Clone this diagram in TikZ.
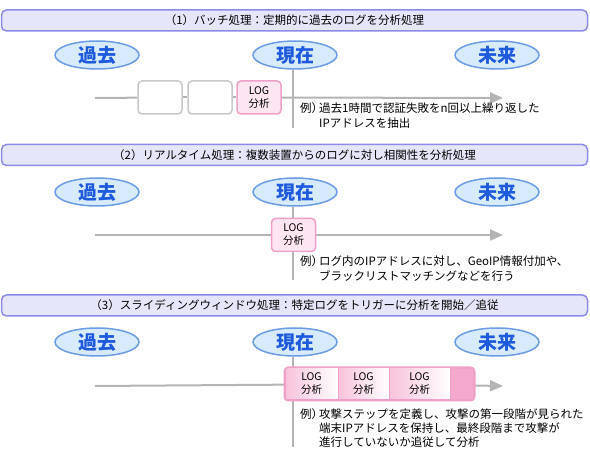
\documentclass[tikz,border=0pt]{standalone}
\usepackage{fontspec}
\setmainfont{Noto Sans CJK JP}
\usetikzlibrary{arrows.meta,backgrounds,shapes.geometric}
\definecolor{hdrfill}{HTML}{E6E6FA}
\definecolor{hdrdraw}{HTML}{8C8CE8}
\definecolor{ellfill}{HTML}{D7EBFC}
\definecolor{elldraw}{HTML}{6C9CE4}
\definecolor{elltext}{HTML}{1E5ADC}
\definecolor{tlgray}{HTML}{B4B4B4}
\definecolor{boxgray}{HTML}{C8C8C8}
\definecolor{pinkfill}{HTML}{FDE5F1}
\definecolor{pinkdraw}{HTML}{F0A0C8}
\definecolor{pinkdark}{HTML}{F5A8CD}
\definecolor{pinkgrad}{HTML}{F8C2DB}
\begin{document}
\begin{tikzpicture}[x=1pt,y=-1pt,
 hdr/.style={draw=hdrdraw,fill=hdrfill,line width=1.5pt,rounded corners=5pt,minimum width=586pt,minimum height=21pt,inner sep=0pt,font=\fontsize{11.5}{14}\selectfont},
 era/.style={ellipse,draw=elldraw,fill=ellfill,line width=1.5pt,minimum width=84pt,minimum height=28pt,inner sep=0pt,text=elltext,font=\fontsize{19}{20}\selectfont\bfseries},
 tl/.style={draw=tlgray,line width=2pt},
 tlarrow/.style={tl,-{Triangle[length=13pt,width=11pt]}},
 greybox/.style={draw=boxgray,fill=white,line width=1.5pt,rounded corners=4pt,minimum width=44pt,minimum height=33pt},
 logbox/.style={draw=pinkdraw,fill=pinkfill,line width=1.5pt,rounded corners=4pt,minimum width=44pt,minimum height=33pt,inner sep=0pt,align=center,font=\fontsize{10.5}{13}\selectfont},
 chainbox/.style={draw=pinkdraw,fill=pinkdark,line width=1.5pt,rounded corners=4pt,minimum width=189pt,minimum height=32pt,inner sep=0pt},
 gradbox/.style={draw=pinkdraw,line width=1pt,left color=pinkgrad,right color=white,minimum height=32pt,inner sep=0pt,align=center,font=\fontsize{10.5}{13}\selectfont},
 ex/.style={anchor=west,inner sep=0pt,font=\fontsize{11.5}{14}\selectfont},
]
\useasboundingbox (0,0) rectangle (590,457);

% ---------- Section 1 ----------
\node[hdr] (h1) at (294.5,20.5) {（1）バッチ処理：定期的に過去のログを分析処理};
\node[era] (past1) at (97,55) {過去};
\node[era] (now1) at (295,55) {現在};
\node[era] (fut1) at (497,55) {未来};
\node[greybox] (b1) at (160,97.5) {};
\node[greybox] (b2) at (210,97.5) {};
\node[logbox] (l1) at (259,97.5) {LOG\\分析};
\coordinate (s1) at (95,98);
\coordinate (e1) at (503,98);
\coordinate (v1) at (293,128);
\node[ex] (x1a) at (300,108) {例）};
\node[ex] (x1b) at (319,108) {過去1時間で認証失敗をn回以上繰り返した};
\node[ex] (x1c) at (319,123) {IPアドレスを抽出};

% ---------- Section 2 ----------
\node[hdr] (h2) at (294.5,155) {（2）リアルタイム処理：複数装置からのログに対し相関性を分析処理};
\node[era] (past2) at (97,192) {過去};
\node[era] (now2) at (295,192) {現在};
\node[era] (fut2) at (497,192) {未来};
\node[logbox] (l2) at (293.5,235) {LOG\\分析};
\coordinate (s2) at (95,235);
\coordinate (e2) at (503,235);
\coordinate (v2) at (293,280);
\node[ex] (x2a) at (300,261) {例）};
\node[ex] (x2b) at (319,261) {ログ内のIPアドレスに対し、GeoIP情報付加や、};
\node[ex] (x2c) at (319,276) {ブラックリストマッチングなどを行う};

% ---------- Section 3 ----------
\node[hdr] (h3) at (294.5,305.5) {（3）スライディングウィンドウ処理：特定ログをトリガーに分析を開始／追従};
\node[era] (past3) at (97,342) {過去};
\node[era] (now3) at (295,342) {現在};
\node[era] (fut3) at (497,342) {未来};
\node[chainbox] (win) at (379.5,384) {};
\begin{scope}
 \clip[rounded corners=4pt] (win.north west) rectangle (win.south east);
 \node[gradbox,minimum width=53pt] (w1) at (311.5,384) {LOG\\分析};
 \node[gradbox,minimum width=51pt] (w2) at (363.5,384) {LOG\\分析};
 \node[gradbox,minimum width=61pt] (w3) at (419.5,384) {LOG\\分析};
\end{scope}
\draw[pinkdraw,line width=1.5pt,rounded corners=4pt] (win.north west) rectangle (win.south east);
\coordinate (s3) at (95,386);
\coordinate (e3) at (503,386);
\coordinate (v3) at (293,447);
\node[ex] (x3a) at (300,414) {例）};
\node[ex] (x3b) at (319,414) {攻撃ステップを定義し、攻撃の第一段階が見られた};
\node[ex] (x3c) at (319,428) {端末IPアドレスを保持し、最終段階まで攻撃が};
\node[ex] (x3d) at (319,442) {進行していないか追従して分析};

% ---------- connectors ----------
\begin{scope}[on background layer]
 \draw[tl] (v1 |- now1.south) -- (v1);
 \draw[tl] (s1) -- (b1);
 \draw[tl] (b1) -- (b2);
 \draw[tl] (b2) -- (l1);
 \draw[tlarrow] (l1) -- (e1);
 \draw[tl] (v2 |- now2.south) -- (v2);
 \draw[tl] (s2) -- (l2);
 \draw[tlarrow] (l2) -- (e2);
 \draw[tl] (v3 |- now3.south) -- (v3);
 \draw[tl] (s3) -- (win);
 \draw[tlarrow] (win) -- (e3);
\end{scope}
\end{tikzpicture}
\end{document}
